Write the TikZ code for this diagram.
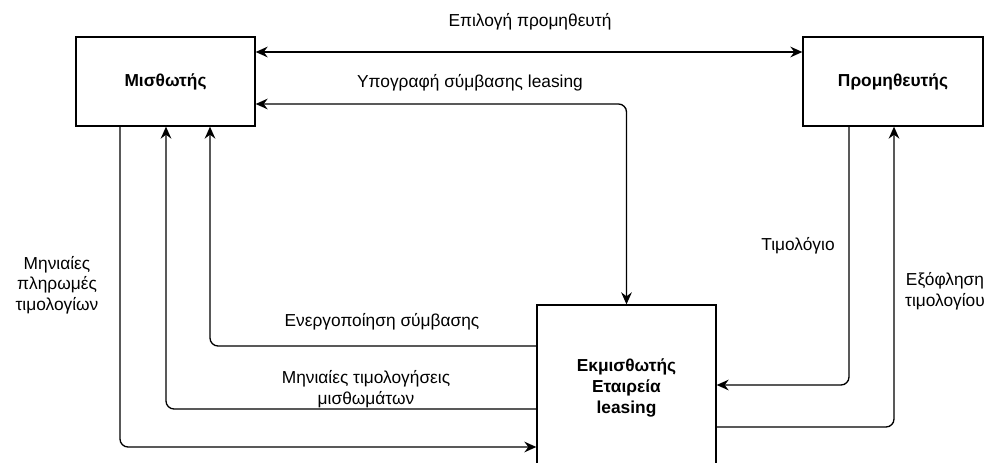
\documentclass[tikz,border=0pt]{standalone}
\usepackage{fontspec}
\setmainfont{Liberation Sans}
\usetikzlibrary{arrows.meta}
\begin{document}
\begin{tikzpicture}[x=0.75pt,y=-0.75pt,
  box/.style={draw, line width=1pt, inner sep=0pt, font=\fontsize{13}{15.5}\selectfont\bfseries, align=center},
  conn/.style={line width=1pt, rounded corners=6pt},
  tip/.style={-{Stealth[length=9pt,width=8pt,inset=3pt]}},
  both/.style={{Stealth[length=9pt,width=8pt,inset=3pt]}-{Stealth[length=9pt,width=8pt,inset=3pt]}},
  lbl/.style={font=\fontsize{13}{15.5}\selectfont, align=center, inner sep=0pt}]
\clip (0,0) rectangle (988,463);
\fill[white] (0,0) rectangle (988,463);
\node[box, minimum width=134.25pt, minimum height=66.75pt] (M) at (165.5,81.5) {Μισθωτής};
\node[box, minimum width=135pt, minimum height=66.75pt] (P) at (893,81.5) {Προμηθευτής};
\node[box, minimum width=134.25pt, minimum height=124.5pt] (E) at (626.5,388) {Εκμισθωτής\\Εταιρεία\\leasing};
\coordinate (ya) at (0,52);
\coordinate (yb) at (0,104);
\coordinate (yc) at (0,346);
\coordinate (yd) at (0,409);
\coordinate (ye) at (0,447);
\coordinate (yf) at (0,385);
\coordinate (yg) at (0,427);
\coordinate (xc) at (210,0);
\coordinate (xd) at (166,0);
\coordinate (xe) at (120,0);
\coordinate (xf) at (849,0);
\coordinate (xg) at (894,0);
% connectors
\draw[conn, both] (M.east |- ya) -- (P.west |- ya);
\draw[conn, both] (M.east |- yb) -| (E.north);
\draw[conn, tip] (E.west |- yc) -| (M.south -| xc);
\draw[conn, tip] (E.west |- yd) -| (M.south -| xd);
\draw[conn, tip] (M.south -| xe) |- (E.west |- ye);
\draw[conn, tip] (P.south -| xf) |- (E.east |- yf);
\draw[conn, tip] (E.east |- yg) -| (P.south -| xg);
% labels
\node[lbl] (la) at (530,22) {Επιλογή προμηθευτή};
\node[lbl] (lb) at (470,83) {Υπογραφή σύμβασης leasing};
\node[lbl] (lc) at (382,322) {Ενεργοποίηση σύμβασης};
\node[lbl] (ld) at (366,389) {Μηνιαίες τιμολογήσεις\\μισθωμάτων};
\node[lbl] (le) at (57,285) {Μηνιαίες\\πληρωμές\\τιμολογίων};
\node[lbl] (lf) at (798,246) {Τιμολόγιο};
\node[lbl] (lg) at (945,291) {Εξόφληση\\τιμολογίου};
\end{tikzpicture}
\end{document}
